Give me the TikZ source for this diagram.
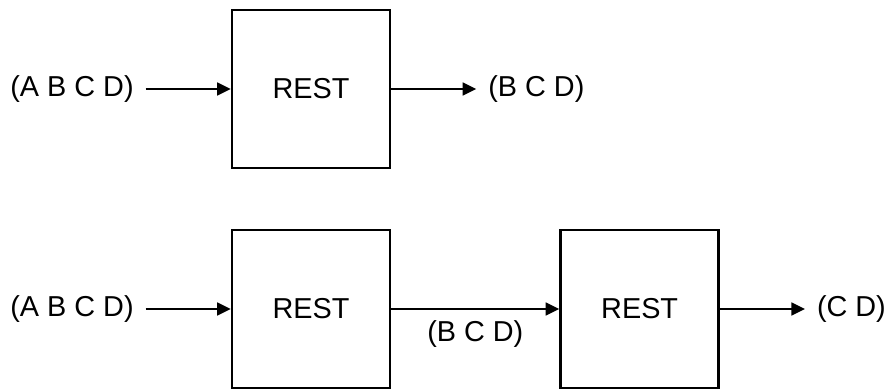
\documentclass[tikz,border=0pt]{standalone}
\usepackage{fontspec}
\setmainfont{Liberation Sans}
\usetikzlibrary{positioning,arrows.meta}

\begin{document}
\begin{tikzpicture}[
  box/.style={draw, line width=1.9pt, minimum width=3.95cm, minimum height=3.95cm,
    inner sep=0pt, font=\fontsize{20.5}{24}\selectfont},
  lbl/.style={inner sep=0pt, outer sep=0.3cm, font=\fontsize{20.5}{24}\selectfont},
  flow/.style={line width=1.6pt, -{Triangle[length=0.34cm, width=0.32cm]}},
  node distance=2.125cm]
  \useasboundingbox (0,0) rectangle (22.125,9.75);

  % one REST
  \node[box] (rest1) at (7.775,7.525) {REST};
  \node[lbl, left=of rest1]  (in1)  {(A B C D)};
  \node[lbl, right=of rest1] (out1) {(B C D)};
  \draw[flow] (in1) -- (rest1);
  \draw[flow] (rest1) -- (out1);

  % REST of REST
  \node[box] (rest2) at (7.775,2.025) {REST};
  \node[box, right=4.2cm of rest2] (rest3) {REST};
  \node[lbl, left=of rest2]  (in2)  {(A B C D)};
  \node[lbl, right=of rest3] (out2) {(C D)};
  \draw[flow] (in2) -- (rest2);
  \draw[flow] (rest2) -- node[lbl, below] (mid) {(B C D)} (rest3);
  \draw[flow] (rest3) -- (out2);
\end{tikzpicture}
\end{document}
